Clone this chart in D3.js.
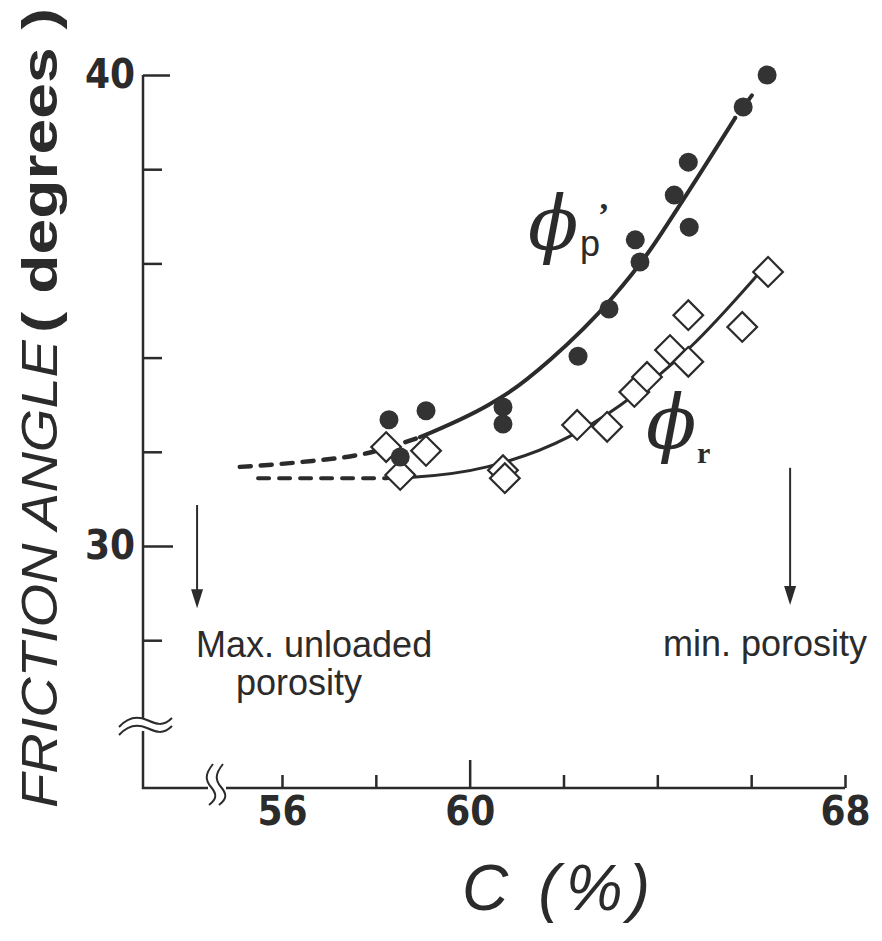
<!DOCTYPE html>
<meta charset="utf-8">
<style>
  body {margin: 0; background: #fff;}
</style>

<svg width="882" height="941"></svg>

<script src="https://cdnjs.cloudflare.com/ajax/libs/d3/7.8.5/d3.min.js"></script>
<script>

// peak friction angle phi'p (filled circles)
var peakC   = [58.28, 58.52, 59.07, 60.71, 60.71, 62.31, 62.97, 63.53, 63.63, 64.36, 64.66, 64.68, 65.83, 66.34];
var peakPhi = [32.68, 31.89, 32.87, 32.95, 32.59, 34.03, 35.03, 36.50, 36.03, 37.45, 38.15, 36.77, 39.32, 40.00];

// residual friction angle phi_r (open diamonds)
var resC   = [58.22, 58.52, 59.07, 60.71, 60.75, 62.29, 62.93, 63.51, 63.78, 64.27, 64.66, 64.66, 65.81, 66.36];
var resPhi = [32.10, 31.51, 32.02, 31.61, 31.44, 32.57, 32.53, 33.27, 33.59, 34.16, 34.90, 33.91, 34.65, 35.82];

// hand drawn trend curves
var peakFitC   = [55.10, 56.38, 57.81, 58.94, 60.39, 60.82, 61.71, 63.04, 63.80, 64.55, 65.66, 66.34];
var peakFitPhi = [31.68, 31.78, 31.97, 32.31, 32.99, 33.25, 33.95, 35.27, 36.22, 37.35, 39.09, 40.00];
var resFitC    = [55.49, 57.02, 58.24, 58.79, 60.37, 62.10, 63.21, 64.70, 66.04, 66.32];
var resFitPhi  = [31.44, 31.44, 31.44, 31.46, 31.68, 32.31, 32.99, 34.22, 35.65, 35.97];

// arrows: max. unloaded porosity / min. porosity
var arrowC    = [54.19, 66.83];
var arrowTop  = [30.87, 31.66];
var arrowTip  = [28.68, 28.75];

var xTicks  = [56, 58, 60, 62, 64, 66, 68];
var xLabels = [56, 60, 68];
var yTicks  = [28, 30, 32, 34, 36, 38, 40];
var yLabels = [30, 40];

var svg = d3.select("svg");
var ink = "#2b2b2b";
var numFont = "'Liberation Sans Narrow', 'DejaVu Sans Condensed', sans-serif";
var txtFont = "'Liberation Sans', Arial, sans-serif";

var x = d3.scaleLinear().domain([56, 68]).range([282, 845]);
var y = d3.scaleLinear().domain([30, 40]).range([546, 75]);

var axisY = 788, axisX = 143;

// AXES
var gx = svg.append("g")
    .attr("transform", "translate(0," + axisY + ")")
    .call(d3.axisBottom(x).tickValues(xTicks).tickSize(-13).tickPadding(9)
      .tickFormat(function(d) { return xLabels.indexOf(d) >= 0 ? d : ""; }));
gx.select(".domain").remove();
gx.selectAll(".tick line")
    .attr("stroke", ink).attr("stroke-width", 2.5)
    .attr("y2", function(d) { return d === 60 ? -28 : -13; });
gx.selectAll(".tick text")
    .attr("font-family", numFont).attr("font-weight", "bold")
    .attr("font-size", 40).attr("fill", ink);

var gy = svg.append("g")
    .attr("transform", "translate(" + axisX + ",0)")
    .call(d3.axisLeft(y).tickValues(yTicks).tickSize(-19).tickPadding(8)
      .tickFormat(function(d) { return yLabels.indexOf(d) >= 0 ? d : ""; }));
gy.select(".domain").remove();
gy.selectAll(".tick line")
    .attr("stroke", ink).attr("stroke-width", 2.5)
    .attr("x2", function(d) { return d === 40 ? 27 : d === 30 ? 30 : 19; });
gy.selectAll(".tick text")
    .attr("font-family", numFont).attr("font-weight", "bold")
    .attr("font-size", 40).attr("fill", ink);

// axis lines with breaks
var frame = svg.append("g").attr("fill", "none").attr("stroke", ink).attr("stroke-width", 2.5);
frame.append("path").attr("d", "M" + axisX + "," + y(40) + "V718");
frame.append("path").attr("d", "M" + axisX + ",731V" + axisY + "H208");
frame.append("path").attr("d", "M226," + axisY + "H" + x(68));
// y break
frame.append("path").attr("d", "M119,727 C128,717 138,716 147,720 S163,727 172,718").attr("stroke-width", 2);
frame.append("path").attr("d", "M119,735 C128,725 138,724 147,728 S163,735 172,726").attr("stroke-width", 2);
// x break
frame.append("path").attr("d", "M213,764 C205,774 205,780 211,787 S217,799 209,805").attr("stroke-width", 2);
frame.append("path").attr("d", "M223,764 C215,774 215,780 221,787 S227,799 219,805").attr("stroke-width", 2);

// CURVES
var line = d3.line()
    .x(function(d) { return x(d[0]); })
    .y(function(d) { return y(d[1]); })
    .curve(d3.curveMonotoneX);

var peakFit = d3.zip(peakFitC, peakFitPhi);
var resFit  = d3.zip(resFitC, resFitPhi);

var curves = svg.append("g").attr("fill", "none").attr("stroke", ink).attr("stroke-linecap", "round");
curves.append("path").attr("d", line(peakFit.slice(0, 4)))
    .attr("stroke-width", 4.5).attr("stroke-dasharray", "11,10");
curves.append("path").attr("d", line(peakFit.slice(3, 11))).attr("stroke-width", 4);
curves.append("path").attr("d", line(peakFit.slice(10)))
    .attr("stroke-width", 4).attr("stroke-dasharray", "0,18,10,40");
curves.append("path").attr("d", line(resFit.slice(0, 3)))
    .attr("stroke-width", 4).attr("stroke-dasharray", "11,10");
curves.append("path").attr("d", line(resFit.slice(2))).attr("stroke-width", 3);

// MARKERS
var diamond = d3.symbol().type(d3.symbolSquare).size(440);
svg.append("g").selectAll("path")
    .data(d3.zip(resC, resPhi))
    .enter().append("path")
    .attr("d", diamond)
    .attr("transform", function(d) { return "translate(" + x(d[0]) + "," + y(d[1]) + ") rotate(45)"; })
    .attr("fill", "#fff").attr("stroke", ink).attr("stroke-width", 2.2);

svg.append("g").selectAll("circle")
    .data(d3.zip(peakC, peakPhi))
    .enter().append("circle")
    .attr("cx", function(d) { return x(d[0]); })
    .attr("cy", function(d) { return y(d[1]); })
    .attr("r", 9.5)
    .attr("fill", "#333");

// ARROWS
var arrows = svg.append("g");
arrowC.forEach(function(c, i) {
  var ax = x(c), y0 = y(arrowTop[i]), y1 = y(arrowTip[i]);
  arrows.append("line")
      .attr("x1", ax).attr("x2", ax).attr("y1", y0).attr("y2", y1 - 15)
      .attr("stroke", ink).attr("stroke-width", 2);
  arrows.append("path")
      .attr("d", "M" + (ax - 6) + "," + (y1 - 19) + "L" + (ax + 6) + "," + (y1 - 19) + "L" + ax + "," + y1 + "Z")
      .attr("fill", ink);
});

// LABELS
function label(tx, ty, str, size, opts) {
  opts = opts || {};
  return svg.append("text")
      .attr("x", tx).attr("y", ty)
      .attr("font-family", opts.family || txtFont)
      .attr("font-size", size)
      .attr("font-style", opts.style || "normal")
      .attr("font-weight", opts.weight || "normal")
      .attr("text-anchor", opts.anchor || "start")
      .attr("fill", ink)
      .text(str);
}

label(196, 657, "Max. unloaded", 36);
label(299, 695, "porosity", 36, {anchor: "middle"});
label(663, 656, "min. porosity", 36);

// phi'p
label(528, 249, "\u03D5", 74, {family: "'DejaVu Serif', serif", style: "italic"});
var pLab = label(580, 256, "p", 36);
pLab.append("tspan")
    .attr("dx", -2).attr("dy", -30)
    .attr("font-family", "'Liberation Serif', serif").attr("font-weight", "bold")
    .attr("font-size", 34)
    .text("\u2019");
// phi_r
label(646, 448, "\u03D5", 74, {family: "'DejaVu Serif', serif", style: "italic"});
label(697, 463, "r", 30, {family: "'Liberation Serif', serif", weight: "bold"});

// axis titles
svg.append("text")
    .attr("transform", "translate(57,808) rotate(-90)")
    .attr("font-family", txtFont).attr("font-style", "italic")
    .attr("font-size", 50).attr("fill", ink)
    .attr("textLength", 468).attr("lengthAdjust", "spacingAndGlyphs")
    .text("FRICTION  ANGLE");
svg.append("text")
    .attr("transform", "translate(57,333) rotate(-90)")
    .attr("font-family", txtFont).attr("font-weight", "bold")
    .attr("font-size", 50).attr("fill", ink)
    .attr("textLength", 325).attr("lengthAdjust", "spacingAndGlyphs")
    .text("( degrees )");

svg.append("text")
    .attr("x", 462).attr("y", 910)
    .attr("font-family", txtFont).attr("font-style", "italic")
    .attr("font-size", 64).attr("fill", ink)
    .attr("textLength", 188).attr("lengthAdjust", "spacing")
    .text("C (%)");

</script>
